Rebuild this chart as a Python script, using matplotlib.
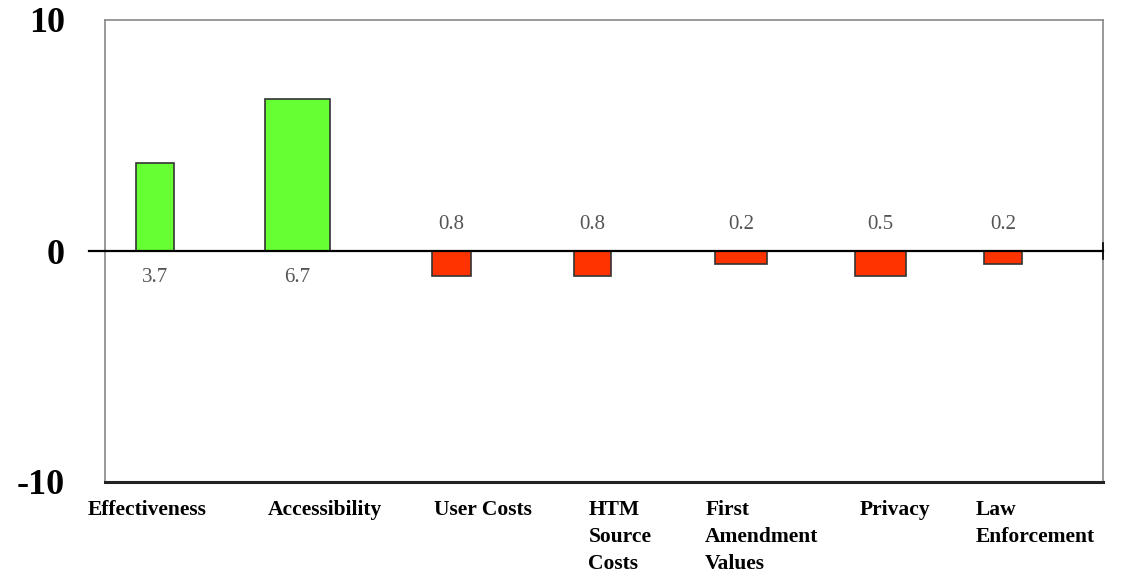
import matplotlib.pyplot as plt
from matplotlib.transforms import blended_transform_factory

# values
categories = ["Effectiveness", "Accessibility", "User Costs", "HTM\nSource\nCosts",
              "First\nAmendment\nValues", "Privacy", "Law\nEnforcement"]
bar_values = [3.8, 6.6, -1.1, -1.1, -0.55, -1.1, -0.55]
value_labels = ["3.7", "6.7", "0.8", "0.8", "0.2", "0.5", "0.2"]
y_ticks = [-10, 0, 10]

# layout (slot units, one slot per category)
bar_offset = [-0.15, -0.15, -0.07, -0.08, -0.04, -0.06, -0.20]
bar_width = [0.27, 0.46, 0.27, 0.26, 0.36, 0.36, 0.27]
label_offset = [-0.62, -0.36, -0.19, -0.11, -0.29, -0.21, -0.39]

green = "#66ff33"
red = "#ff3300"

fig = plt.figure(figsize=(11.21, 5.84), dpi=100)
ax = fig.add_axes([105 / 1121, 1 - 482 / 584, 998 / 1121, 462 / 584])

xs = [i + o for i, o in enumerate(bar_offset)]
colors = [green if v > 0 else red for v in bar_values]
ax.bar(xs, bar_values, width=bar_width, color=colors, edgecolor="#333333",
       linewidth=1.2, zorder=2)

ax.set_xlim(-0.5, 6.5)
ax.set_ylim(-10, 10)

# zero line, running a little past the left edge
ax.axhline(0, xmin=-0.016, xmax=1.0, color="black", lw=1.6, zorder=3, clip_on=False)
ax.plot([6.5, 6.5], [-0.35, 0.35], color="black", lw=1.2, clip_on=False, zorder=3)

for x, v, lab in zip(xs, bar_values, value_labels):
    if v > 0:
        ax.text(x, -0.75, lab, ha="center", va="top", fontsize=15,
                family="Liberation Serif", color="#555555")
    else:
        ax.text(x, 0.75, lab, ha="center", va="bottom", fontsize=15,
                family="Liberation Serif", color="#555555")

trans = blended_transform_factory(ax.transData, ax.transAxes)
for i, (cat, off) in enumerate(zip(categories, label_offset)):
    ax.text(i + off, -0.04, cat, transform=trans, ha="left", va="top",
            fontsize=15.5, fontweight="bold", family="Liberation Serif",
            linespacing=1.45)

ax.set_xticks([])
ax.set_yticks(y_ticks)
ax.set_yticklabels([str(t) for t in y_ticks], fontsize=26, fontweight="bold",
                   family="Liberation Serif")
ax.tick_params(axis="y", length=0, pad=29)

for side in ["top", "left", "right"]:
    ax.spines[side].set_color("#888888")
    ax.spines[side].set_linewidth(1.2)
ax.spines["bottom"].set_color("#222222")
ax.spines["bottom"].set_linewidth(2.2)

fig.savefig("out.png", dpi=100)
